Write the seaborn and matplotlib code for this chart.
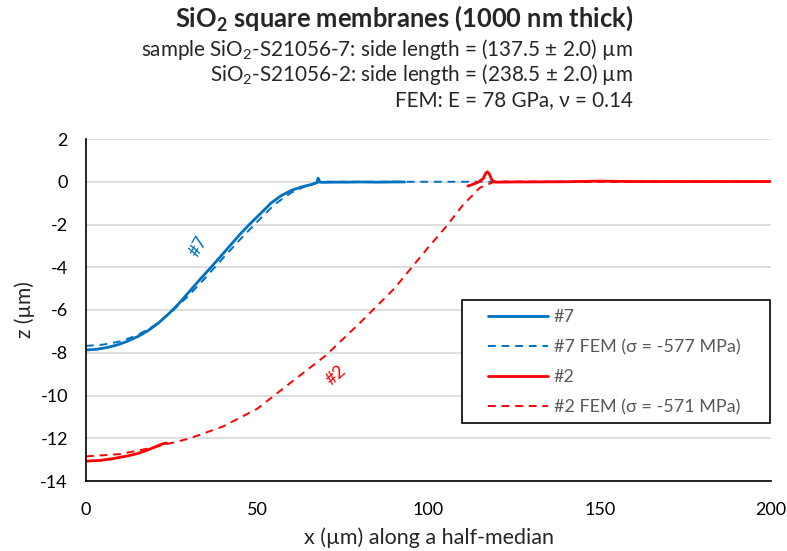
import numpy as np
import pandas as pd
import matplotlib
matplotlib.use("Agg")
import matplotlib.pyplot as plt
from matplotlib.lines import Line2D
from matplotlib.patches import Rectangle
import seaborn as sns

# ---- data ----
x7 = [0, 3, 6, 9, 12, 15, 18, 21, 24, 27, 30, 33, 36, 39, 42, 45, 48, 51, 54, 57, 60, 63, 66, 67.3, 67.8, 68.3, 69.2, 72, 76, 80, 85, 90, 93]
z7 = [-7.87, -7.84, -7.76, -7.64, -7.47, -7.25, -6.98, -6.63, -6.2, -5.72, -5.17, -4.62, -4.09, -3.55, -3.0, -2.45, -1.95, -1.48, -1.0, -0.65, -0.4, -0.24, -0.12, -0.05, 0.17, -0.02, -0.03, -0.02, -0.02, -0.01, -0.02, -0.01, -0.01]

x7_fem = [0, 5, 10, 15, 20, 25, 30, 35, 40, 45, 50, 55, 60, 65, 68.75, 100, 150, 200]
z7_fem = [-7.68, -7.62, -7.47, -7.18, -6.72, -6.08, -5.32, -4.47, -3.57, -2.7, -1.87, -1.07, -0.5, -0.15, 0.0, 0.0, 0.0, 0.0]

x2a = [0, 4, 8, 12, 15, 18, 20, 22, 23.5]
z2a = [-13.07, -13.04, -12.95, -12.83, -12.72, -12.55, -12.42, -12.28, -12.22]
x2b = [111.5, 113, 114.5, 116, 116.7, 117.2, 117.8, 118.5, 119.5, 125, 140, 150, 160, 180, 200]
z2b = [-0.2, -0.12, -0.02, 0.15, 0.4, 0.47, 0.35, 0.08, -0.02, -0.01, 0.0, 0.03, 0.01, 0.01, 0.01]

x2_fem = [0, 10, 20, 30, 40, 50, 60, 70, 80, 90, 100, 105, 110, 115, 119.25, 150, 200]
z2_fem = [-12.85, -12.74, -12.42, -12.02, -11.45, -10.62, -9.37, -8.13, -6.6, -5.0, -3.06, -2.13, -1.1, -0.28, 0.0, 0.0, 0.0]

labels = ["#7", "#7 FEM (σ = -577 MPa)", "#2", "#2 FEM (σ = -571 MPa)"]
xticks = [0, 50, 100, 150, 200]
yticks = list(range(-14, 3, 2))
BLUE = "#0070C0"
RED = "#FF0000"

sns.set_theme(style="white")
plt.rcParams['font.family'] = ['Lato', 'DejaVu Sans']
plt.rcParams['axes.unicode_minus'] = False
plt.rcParams['mathtext.fontset'] = 'custom'
plt.rcParams['mathtext.rm'] = 'Lato'
plt.rcParams['mathtext.bf'] = 'Lato:bold'

W, H = 787, 551
fig = plt.figure(figsize=(W / 100, H / 100), dpi=100)
L, R, T, B = 86, 771, 139, 481
ax = fig.add_axes([L / W, 1 - B / H, (R - L) / W, (B - T) / H])

df7 = pd.DataFrame({"x": x7, "z": z7})
df7f = pd.DataFrame({"x": x7_fem, "z": z7_fem})
df2a = pd.DataFrame({"x": x2a, "z": z2a})
df2b = pd.DataFrame({"x": x2b, "z": z2b})
df2f = pd.DataFrame({"x": x2_fem, "z": z2_fem})

dash = (0, (4, 3))
sns.lineplot(data=df7f, x="x", y="z", ax=ax, color=BLUE, lw=1.4, linestyle=dash, estimator=None, sort=False)
sns.lineplot(data=df7, x="x", y="z", ax=ax, color=BLUE, lw=2.0, estimator=None, sort=False)
sns.lineplot(data=df2f, x="x", y="z", ax=ax, color=RED, lw=1.4, linestyle=dash, estimator=None, sort=False)
sns.lineplot(data=df2a, x="x", y="z", ax=ax, color=RED, lw=2.0, estimator=None, sort=False)
sns.lineplot(data=df2b, x="x", y="z", ax=ax, color=RED, lw=2.0, estimator=None, sort=False)

ax.set_xlim(0, 200)
ax.set_ylim(-14, 2)
ax.set_xticks(xticks)
ax.set_yticks(yticks)
ax.yaxis.grid(True, color="#d9d9d9", lw=1.2)
ax.xaxis.grid(False)
for s in ["top", "right"]:
    ax.spines[s].set_visible(False)
for s in ["left", "bottom"]:
    ax.spines[s].set_color("black")
    ax.spines[s].set_linewidth(1.2)
ax.tick_params(axis="both", length=0, labelsize=13, colors="black")
ax.tick_params(axis="y", pad=13)
ax.tick_params(axis="x", pad=15)
ax.set_xlabel("x (µm) along a half-median", fontsize=15.5, labelpad=7)
ax.set_ylabel("z (µm)", fontsize=15, labelpad=4)

# legend box
ax.add_patch(Rectangle(((462 - L) / (R - L), (B - 423) / (B - T)), (770 - 462) / (R - L), (423 - 300) / (B - T),
                       transform=ax.transAxes, fill=True, facecolor="white", edgecolor="black", lw=1.2, zorder=5))
handles = [
    Line2D([], [], color=BLUE, lw=2.0),
    Line2D([], [], color=BLUE, lw=1.4, linestyle=dash),
    Line2D([], [], color=RED, lw=2.0),
    Line2D([], [], color=RED, lw=1.4, linestyle=dash),
]
leg = ax.legend(handles, labels, loc="upper left",
                bbox_to_anchor=((488 - L) / (R - L), (B - 309) / (B - T)),
                fontsize=13, frameon=False, handlelength=3.3, handletextpad=0.35,
                labelspacing=0.78, borderpad=0, borderaxespad=0)
leg.set_zorder(6)
for t in leg.get_texts():
    t.set_color("#595959")

ax.text(32.7, -3.02, "#7", color=BLUE, rotation=60, fontsize=13, ha="center", va="center")
ax.text(73.0, -9.07, "#2", color=RED, rotation=42, fontsize=13, ha="center", va="center")

fig.text(633 / W, 1 - 18 / H, r"SiO$_\mathbf{2}$ square membranes (1000 nm thick)", ha="right", va="center",
         fontsize=18.4, fontweight="bold")
fig.text(633 / W, 1 - 50 / H, r"sample SiO$_2$-S21056-7: side length = (137.5 ± 2.0) µm", ha="right", va="center", fontsize=14.9)
fig.text(633 / W, 1 - 75 / H, r"SiO$_2$-S21056-2: side length = (238.5 ± 2.0) µm", ha="right", va="center", fontsize=14.9)
fig.text(633 / W, 1 - 100 / H, "FEM: E = 78 GPa, ν = 0.14", ha="right", va="center", fontsize=14.9)

fig.savefig("out.png", dpi=100)
